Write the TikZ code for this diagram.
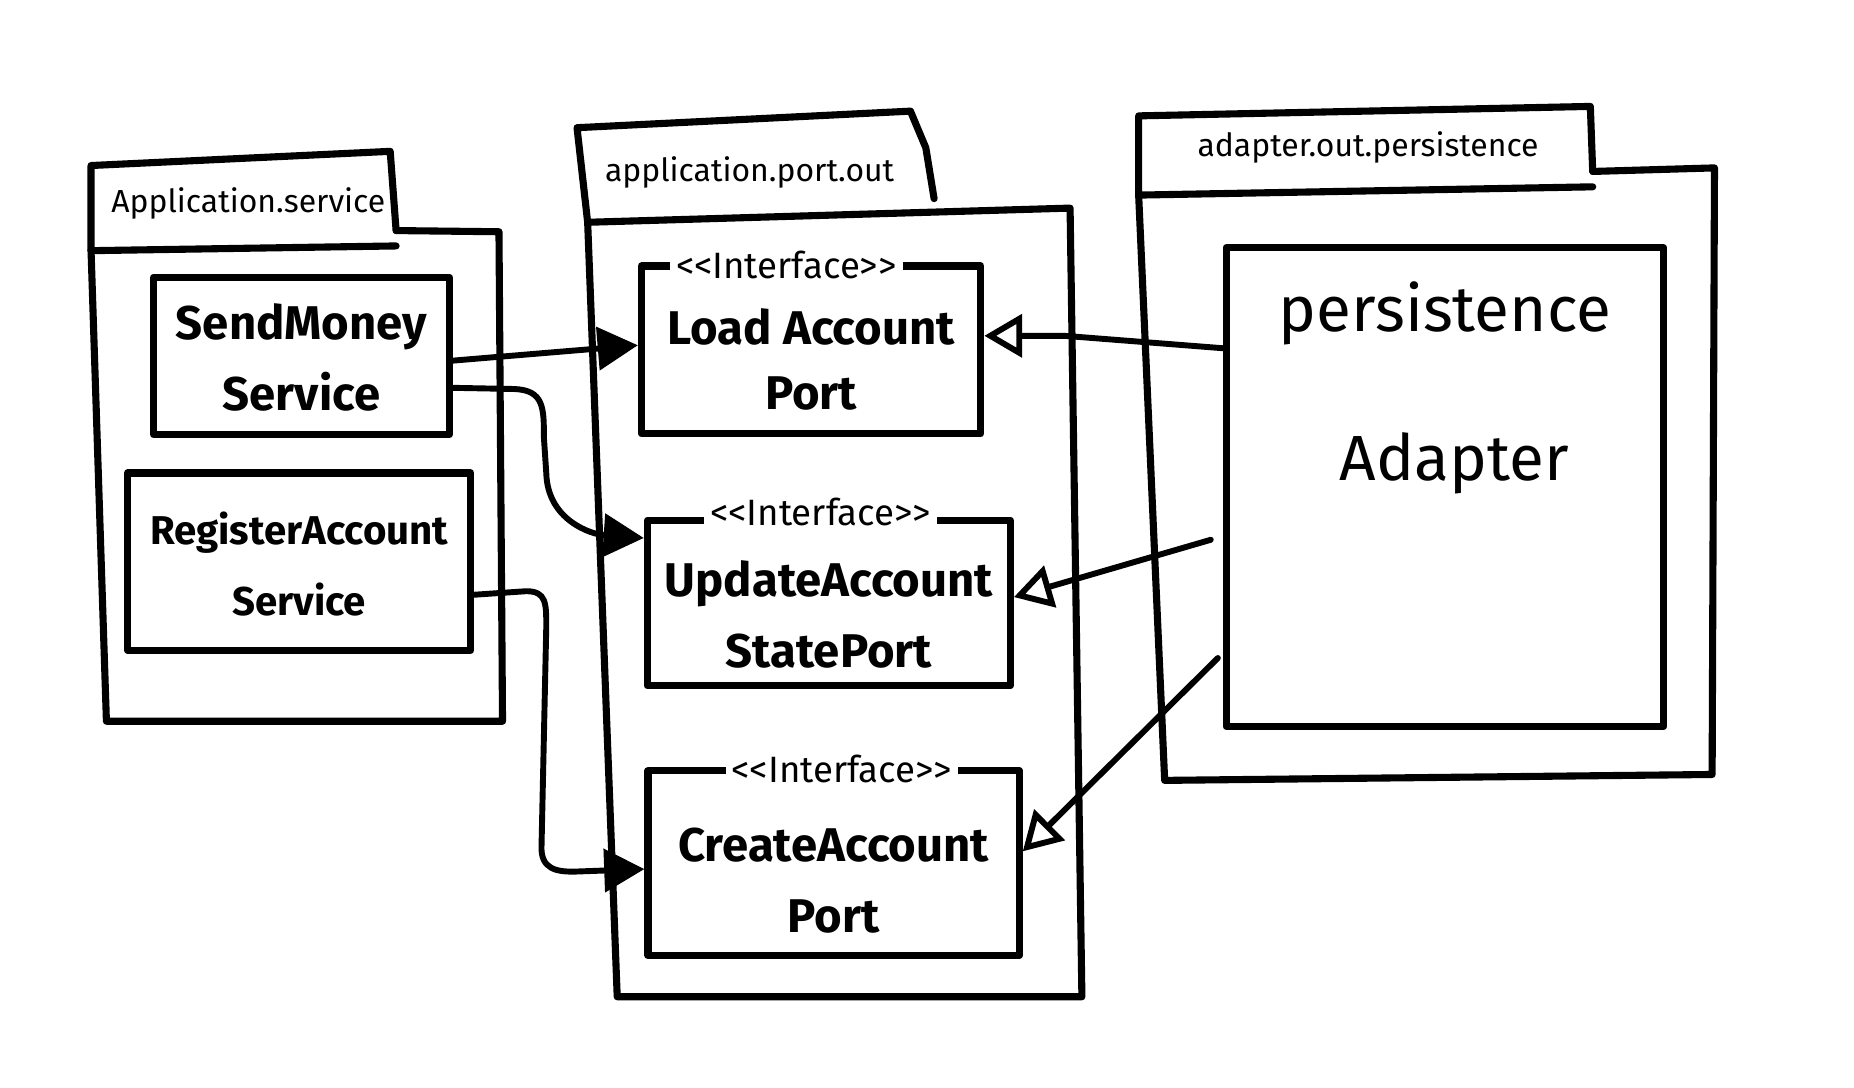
\documentclass[tikz,border=0pt]{standalone}
\usepackage{fontspec}
\setmainfont{Fira Sans}
\usetikzlibrary{arrows.meta,calc}
\begin{document}
\begin{tikzpicture}[x=1pt,y=-1pt, line width=6pt, line cap=round, line join=round,
  box/.style={draw, line width=6pt, inner sep=0pt, align=center},
  lblfont/.style={align=center, font=\fontsize{40}{60}\selectfont\bfseries},
  pkglbl/.style={font=\fontsize{27}{30}\selectfont},
  stereo/.style={fill=white, inner sep=5pt, font=\fontsize{31}{32}\selectfont},
  call/.style={line width=5pt, -{Triangle[length=34pt,width=36pt]}},
  impl/.style={line width=5pt, -{Triangle[open,length=32pt,width=36pt,fill=white]}}]
\path[use as bounding box, fill=white] (0,0) rectangle (1568,920);

% --- package application.service
\draw (77,212) -- (77,140) -- (330,128) -- (335,195);
\draw (77,212) -- (335,208);
\draw (335,195) -- (422,196) -- (425,610) -- (90,610) -- (77,212);
\node[pkglbl] (pkgA) at (210,172) {Application.service};

% --- package application.port.out
\draw (497,188) -- (488,108) -- (770,94) -- (783,125) -- (790,168);
\draw (497,188) -- (905,176) -- (915,843) -- (522,843) -- (497,188);
\node[pkglbl] (pkgB) at (634,146) {application.port.out};

% --- package adapter.out.persistence
\draw (963,165) -- (963,98) -- (1345,90) -- (1347,145);
\draw (963,165) -- (1347,158);
\draw (1347,145) -- (1450,142) -- (1448,655) -- (985,660) -- (963,165);
\node[pkglbl] (pkgC) at (1157,125) {adapter.out.persistence};

% --- service boxes
\node[box, minimum width=250pt, minimum height=133pt] (sms) at (255,301) {};
\node[lblfont] (smst) at (255,302) {SendMoney\\Service};
\node[box, minimum width=290pt, minimum height=150pt] (ras) at (253,475) {};
\node[align=center, font=\fontsize{34}{60}\selectfont\bfseries] (rast) at (253,477) {RegisterAccount\\Service};

% --- port boxes
\node[box, minimum width=287pt, minimum height=142pt] (lap) at (686,296) {};
\node[lblfont, font=\fontsize{40}{55}\selectfont\bfseries] (lapt) at (686,304) {Load Account\\Port};
\node[stereo] (lapst) at (665,224) {<\kern0pt<Interface>\kern0pt>};
\node[box, minimum width=307pt, minimum height=140pt] (uasp) at (701,510) {};
\node[lblfont] (uaspt) at (701,520) {UpdateAccount\\StatePort};
\node[stereo] (uaspst) at (694,433) {<\kern0pt<Interface>\kern0pt>};
\node[box, minimum width=314pt, minimum height=156pt] (cap) at (705,730) {};
\node[lblfont] (capt) at (705,745) {CreateAccount\\Port};
\node[stereo] (capst) at (712,650) {<\kern0pt<Interface>\kern0pt>};

% --- adapter box
\node[box, minimum width=370pt, minimum height=405pt] (pa) at (1222,412) {};
\node[font=\fontsize{54}{60}\selectfont] (pat1) at (1222,265) {persistence};
\node[font=\fontsize{54}{60}\selectfont] (pat2) at (1230,392) {Adapter};

% --- calls
\draw[call] ($(sms.east)+(0,4)$) -- ($(lap.west)+(0,-4)$);
\draw[call] ($(sms.east)+(0,27)$) -- (435,329) .. controls (460,330) and (460,345) .. (460,370)
   -- (462,400) .. controls (463,440) and (500,452) .. ($(uasp.north west)+(0,18)$);
\draw[call] ($(ras.east)+(0,28)$) -- (445,500) .. controls (462,500) and (462,510) .. (462,530)
   -- (458,715) .. controls (457,735) and (470,738) .. (490,737) -- ($(cap.west)+(0,5)$);

% --- implementations
\draw[impl] ($(pa.north west)+(0,88)$) -- (900,284) -- ($(lap.east)+(0,-12)$);
\draw[impl] ($(pa.north west)+(-10,250)$) -- ($(uasp.east)+(0,-5)$);
\draw[impl] ($(pa.north west)+(-4,350)$) -- ($(cap.east)+(0,-10)$);
\end{tikzpicture}
\end{document}
